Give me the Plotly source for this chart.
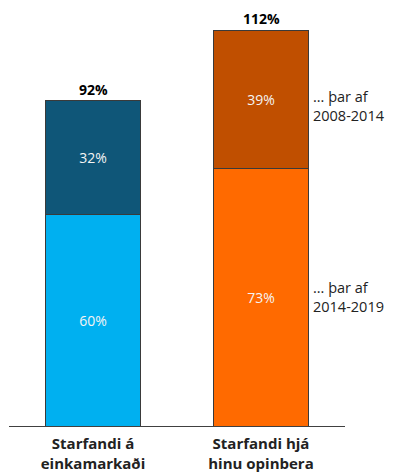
import plotly.graph_objects as go

categories = ["Starfandi á<br>einkamarkaði", "Starfandi hjá<br>hinu opinbera"]
base_vals = [60, 73]      # ... þar af 2014-2019
top_vals = [32, 39]       # ... þar af 2008-2014
totals = [92, 112]
base_colors = ["#00B0F0", "#FF6A00"]
top_colors = ["#0F5678", "#C04F00"]
side_labels = ["... þar af<br>2014-2019", "... þar af<br>2008-2014"]

FONT = "Open Sans"
x = [0, 1]

fig = go.Figure()
fig.add_trace(go.Bar(
    x=x, y=base_vals, width=0.56,
    marker=dict(color=base_colors, line=dict(color="#3a3a3a", width=1)),
    text=[f"{v}%" for v in base_vals], textposition="inside",
    insidetextanchor="middle",
    textfont=dict(color="#F4F4F4", size=14, family=FONT),
    hoverinfo="skip",
))
fig.add_trace(go.Bar(
    x=x, y=top_vals, width=0.56,
    marker=dict(color=top_colors, line=dict(color="#3a3a3a", width=1)),
    text=[f"{v}%" for v in top_vals], textposition="inside",
    insidetextanchor="middle",
    textfont=dict(color="#F4F4F4", size=14, family=FONT),
    hoverinfo="skip",
))

for xi, t in zip(x, totals):
    fig.add_annotation(x=xi, y=t, text=f"<b>{t}%</b>", showarrow=False,
                       yanchor="bottom", yshift=0,
                       font=dict(size=14, color="black", family=FONT))

# side labels next to right bar
fig.add_annotation(x=1.3, y=base_vals[1] / 2, text=side_labels[0],
                   showarrow=False, xanchor="left", align="left",
                   font=dict(size=14.5, color="#222", family=FONT))
fig.add_annotation(x=1.3, y=base_vals[1] + top_vals[1] / 2 - 2, text=side_labels[1],
                   showarrow=False, xanchor="left", align="left",
                   font=dict(size=14.5, color="#222", family=FONT))

fig.update_layout(
    barmode="stack",
    width=399, height=475,
    margin=dict(l=9, r=54, t=2, b=47),
    plot_bgcolor="white", paper_bgcolor="white",
    showlegend=False,
    xaxis=dict(range=[-0.5, 1.5], tickvals=x,
               ticktext=[f"<b>{c}</b>" for c in categories],
               showline=True, linecolor="#404040", linewidth=1,
               ticks="", showgrid=False, zeroline=False,
               ticklabelstandoff=4,
               tickfont=dict(size=15, color="#222", family=FONT)),
    yaxis=dict(range=[0, 120], visible=False, showgrid=False),
)

fig.write_html("out.html")
